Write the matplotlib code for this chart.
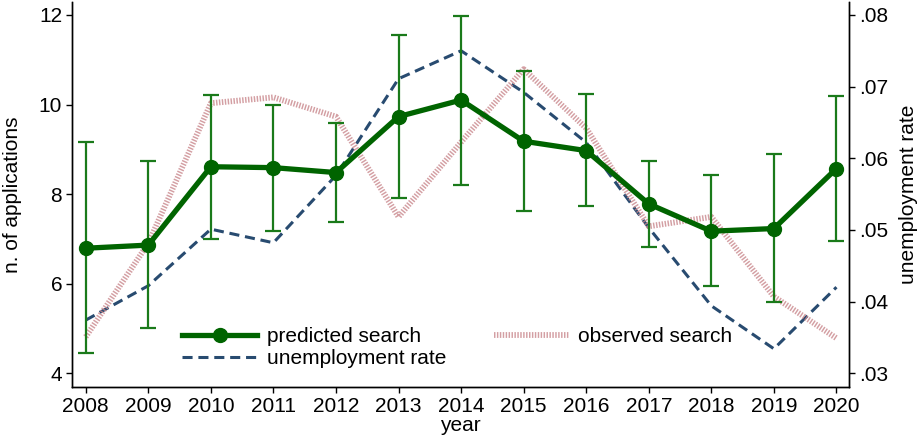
import matplotlib
matplotlib.use("Agg")
import matplotlib.pyplot as plt

plt.rcParams['font.family'] = ['Liberation Sans', 'DejaVu Sans']

years = [2008, 2009, 2010, 2011, 2012, 2013, 2014, 2015, 2016, 2017, 2018, 2019, 2020]
predicted = [6.79, 6.86, 8.61, 8.59, 8.48, 9.73, 10.10, 9.18, 8.97, 7.78, 7.17, 7.23, 8.57]
pred_hi = [9.16, 8.73, 10.21, 9.99, 9.59, 11.55, 11.98, 10.75, 10.23, 8.74, 8.42, 8.89, 10.20]
pred_lo = [4.45, 5.00, 6.99, 7.18, 7.37, 7.92, 8.20, 7.63, 7.74, 6.81, 5.94, 5.58, 6.96]
observed = [4.81, 6.90, 10.03, 10.16, 9.73, 7.49, 9.16, 10.79, 9.47, 7.28, 7.49, 5.71, 4.78]
unemployment = [0.0374, 0.0422, 0.0501, 0.0482, 0.0576, 0.0711, 0.0750, 0.0692, 0.0622, 0.0503, 0.0394, 0.0334, 0.0420]

left_ticks = [4, 6, 8, 10, 12]
right_ticks = [0.03, 0.04, 0.05, 0.06, 0.07, 0.08]
right_labels = ['.03', '.04', '.05', '.06', '.07', '.08']

green = '#006400'
navy = '#284b70'
pink = '#c9878c'

fig = plt.figure(figsize=(9.19, 4.41), dpi=100)
ax = fig.add_axes([0.0783, 0.1224, 0.8455, 0.8731])
ax2 = ax.twinx()
ax.set_zorder(ax2.get_zorder() + 1)
ax.patch.set_visible(False)

yerr = [[p - l for p, l in zip(predicted, pred_lo)], [h - p for h, p in zip(pred_hi, predicted)]]
ax.errorbar(years, predicted, yerr=yerr, fmt='none', ecolor='#1a7a1a', elinewidth=1.6,
            capsize=6, capthick=1.6, zorder=3)
obs_line, = ax.plot(years, observed, color=pink, lw=4.2, linestyle=(0, (0.25, 0.25)),
                    alpha=0.8, zorder=2, label='observed search')
pred_line, = ax.plot(years, predicted, color=green, lw=3.8, marker='o', markersize=10,
                     zorder=4, label='predicted search')
un_line, = ax2.plot(years, unemployment, color=navy, lw=2.2, linestyle=(0, (3.3, 1.9)),
                    label='unemployment rate')

ax.set_xlim(2007.78, 2020.2)
ax.set_ylim(3.69, 12.29)
lo2 = 0.03 + (3.69 - 4) * 0.00625
hi2 = 0.03 + (12.29 - 4) * 0.00625
ax2.set_ylim(lo2, hi2)

ax.set_xticks(years)
ax.set_xticklabels([str(y) for y in years])
ax.set_yticks(left_ticks)
ax.set_yticklabels([str(t) for t in left_ticks])
ax2.set_yticks(right_ticks)
ax2.set_yticklabels(right_labels)

for a in (ax, ax2):
    a.spines['top'].set_visible(False)
    for s in a.spines.values():
        s.set_linewidth(1.0)
        s.set_color('black')
    a.tick_params(labelsize=15, length=4, width=1, direction='out', pad=3)

ax.set_xlabel('year', fontsize=15, labelpad=0)
ax.set_ylabel('n. of applications', fontsize=15, labelpad=12)
ax2.set_ylabel('unemployment rate', fontsize=15, labelpad=8)

handles = [pred_line, un_line, obs_line]
labels = [h.get_label() for h in handles]
ax.legend(handles, labels, ncol=2, frameon=False, fontsize=15,
          loc='lower left', bbox_to_anchor=(0.118, 0.0), handlelength=3.6,
          columnspacing=2.3, handletextpad=0.45, labelspacing=0.15)

fig.savefig('out.png', dpi=100)
